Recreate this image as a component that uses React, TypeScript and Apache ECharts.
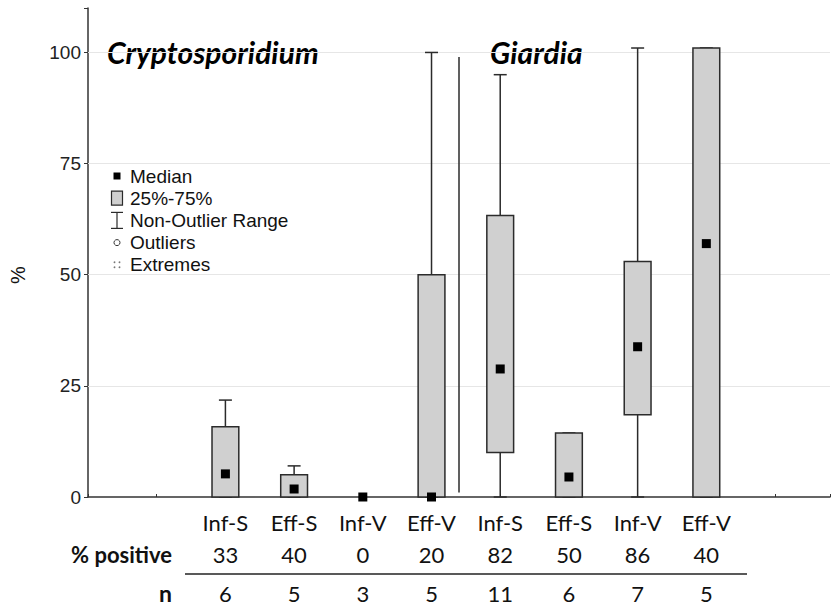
import React, { useEffect, useRef } from 'react';
import * as echarts from 'echarts';

// ---- data ----
const groups = ['Inf-S', 'Eff-S', 'Inf-V', 'Eff-V', 'Inf-S', 'Eff-S', 'Inf-V', 'Eff-V'];
const positions = [2, 3, 4, 5, 6, 7, 8, 9];
const whiskerMin = [0, 0, 0, 0, 0, 0, 0, 0];
const q1 = [0, 0, 0, 0, 10, 0, 18.5, 0];
const medians = [5.2, 1.8, 0, 0, 28.8, 4.5, 33.8, 57];
const q3 = [15.8, 5, 0, 50, 63.3, 14.4, 53, 101];
const whiskerMax = [21.8, 7, 0, 100, 95, 14.4, 101, 101];
const pctPositive = [33, 40, 0, 20, 82, 50, 86, 40];
const nSamples = [6, 5, 3, 5, 11, 6, 7, 5];
const yTicks = [0, 25, 50, 75, 100];
const gridValues = [25, 50, 75, 100];
const titles = ['Cryptosporidium', 'Giardia'];
const legendItems = ['Median', '25%-75%', 'Non-Outlier Range', 'Outliers', 'Extremes'];
const rowTitles = ['% positive', 'n'];
const separator = [[5.4, 1], [5.4, 99]];

export default function App() {
  const ref = useRef<HTMLDivElement>(null);
  useEffect(() => {
    document.body.style.margin = '0';
    const chart = echarts.init(ref.current!, null, { renderer: 'svg' });
    const boxData = positions.map((p, i) => [p, whiskerMin[i], q1[i], medians[i], q3[i], whiskerMax[i]]);
    const dark = '#2b2b2b';
    const legendFont = '19px "Liberation Sans", Arial, sans-serif';
    const legendTop = 176;
    const legendStep = 22.2;
    const legendGraphics: any[] = legendItems.map((t, i) => ({
      type: 'text',
      x: 130,
      y: legendTop + i * legendStep,
      style: { text: t, font: legendFont, fill: '#111', verticalAlign: 'middle' },
    }));
    const iconX = 117;
    legendGraphics.push(
      { type: 'rect', shape: { x: iconX - 3.5, y: legendTop - 3.5, width: 7, height: 7 }, style: { fill: '#000' } },
      { type: 'rect', shape: { x: iconX - 5.5, y: legendTop + legendStep - 7, width: 11, height: 14 }, style: { fill: '#d0d0d0', stroke: dark, lineWidth: 1.2 } },
      { type: 'line', shape: { x1: iconX, y1: legendTop + 2 * legendStep - 8, x2: iconX, y2: legendTop + 2 * legendStep + 8 }, style: { stroke: dark, lineWidth: 1.2 } },
      { type: 'line', shape: { x1: iconX - 6, y1: legendTop + 2 * legendStep - 8, x2: iconX + 6, y2: legendTop + 2 * legendStep - 8 }, style: { stroke: dark, lineWidth: 1.2 } },
      { type: 'line', shape: { x1: iconX - 6, y1: legendTop + 2 * legendStep + 8, x2: iconX + 6, y2: legendTop + 2 * legendStep + 8 }, style: { stroke: dark, lineWidth: 1.2 } },
      { type: 'circle', shape: { cx: iconX, cy: legendTop + 3 * legendStep, r: 3 }, style: { fill: 'none', stroke: '#333', lineWidth: 1 } },
    );
    [[-2.5, -2.5], [2.5, -2.5], [-2.5, 2.5], [2.5, 2.5]].forEach(([dx, dy]) => {
      legendGraphics.push({ type: 'circle', shape: { cx: iconX + dx, cy: legendTop + 4 * legendStep + dy, r: 0.9 }, style: { fill: '#777' } });
    });

    chart.setOption({
      animation: false,
      backgroundColor: '#fff',
      grid: { left: 88, right: 0, top: 8, bottom: 113, containLabel: false },
      xAxis: {
        type: 'value',
        min: 0,
        max: 10.8,
        interval: 1,
        axisLine: { show: true, lineStyle: { color: '#333', width: 1.5 } },
        axisTick: { show: true, inside: true, length: 3, lineStyle: { color: '#333' } },
        splitLine: { show: false },
        axisLabel: {
          margin: 9,
          formatter: (v: number) => {
            const i = positions.indexOf(Math.round(v * 10) / 10);
            if (i < 0) return '';
            return `{c|${groups[i]}}\n{p|${pctPositive[i]}}\n{n|${nSamples[i]}}`;
          },
          rich: {
            c: { fontFamily: 'Lato', fontSize: 22, lineHeight: 32, color: '#111' },
            p: { fontFamily: 'Lato', fontSize: 22, lineHeight: 32, color: '#111' },
            n: { fontFamily: 'Lato', fontSize: 22, lineHeight: 46, color: '#111' },
          },
        },
      },
      yAxis: {
        type: 'value',
        min: 0,
        max: 110,
        interval: 25,
        axisLine: { show: true, lineStyle: { color: '#333', width: 1.5 } },
        axisTick: { show: true, length: 4, lineStyle: { color: '#333' } },
        splitLine: { show: false },
        axisLabel: {
          margin: 7,
          fontFamily: '"Liberation Sans", Arial, sans-serif',
          fontSize: 19,
          color: '#222',
          formatter: (v: number) => (yTicks.includes(v) ? String(v) : ''),
        },
      },
      series: [
        {
          type: 'line',
          data: separator,
          symbol: 'none',
          lineStyle: { color: dark, width: 1.5 },
          z: 3,
          markLine: {
            silent: true,
            symbol: 'none',
            label: { show: false },
            lineStyle: { color: '#e6e6e6', width: 1, type: 'solid' },
            data: gridValues.map((v) => ({ yAxis: v })),
            z: 1,
          },
        },
        {
          type: 'custom',
          data: boxData,
          z: 5,
          renderItem: (params: any, api: any) => {
            const p = api.value(0);
            const vMin = api.value(1), vQ1 = api.value(2), vMed = api.value(3), vQ3 = api.value(4), vMax = api.value(5);
            const x = api.coord([p, 0])[0];
            const yMin = api.coord([p, vMin])[1];
            const yQ1 = api.coord([p, vQ1])[1];
            const yMed = api.coord([p, vMed])[1];
            const yQ3 = api.coord([p, vQ3])[1];
            const yMax = api.coord([p, vMax])[1];
            const half = api.size([0.39, 0])[0] / 2;
            const cap = 6.5;
            const children: any[] = [];
            const ls = { stroke: dark, lineWidth: 1.5 };
            if (vMax > vMin) {
              children.push({ type: 'line', shape: { x1: x, y1: yMin, x2: x, y2: yMax }, style: ls });
              children.push({ type: 'line', shape: { x1: x - cap, y1: yMax, x2: x + cap, y2: yMax }, style: ls });
              children.push({ type: 'line', shape: { x1: x - cap, y1: yMin, x2: x + cap, y2: yMin }, style: ls });
            }
            if (vQ3 > vQ1) {
              children.push({
                type: 'rect',
                shape: { x: x - half, y: yQ3, width: half * 2, height: yQ1 - yQ3 },
                style: { fill: '#d0d0d0', stroke: dark, lineWidth: 1.5 },
              });
            }
            children.push({ type: 'rect', shape: { x: x - 4.5, y: yMed - 4.5, width: 9, height: 9 }, style: { fill: '#000' } });
            return { type: 'group', children };
          },
        },
      ],
      graphic: [
        {
          type: 'text', x: 107, y: 52,
          style: { text: titles[0], font: 'italic bold 30px Lato, sans-serif', fill: '#000', verticalAlign: 'middle' },
        },
        {
          type: 'text', x: 490, y: 52,
          style: { text: titles[1], font: 'italic bold 30px Lato, sans-serif', fill: '#000', verticalAlign: 'middle' },
        },
        {
          type: 'text', x: 18, y: 275, rotation: Math.PI / 2,
          style: { text: '%', font: '20px "Liberation Sans", Arial, sans-serif', fill: '#111', align: 'center', verticalAlign: 'middle' },
        },
        {
          type: 'text', x: 172, y: 554,
          style: { text: rowTitles[0], font: 'bold 22px Lato, sans-serif', fill: '#111', align: 'right', verticalAlign: 'middle' },
        },
        {
          type: 'text', x: 172, y: 593,
          style: { text: rowTitles[1], font: 'bold 23px Lato, sans-serif', fill: '#111', align: 'right', verticalAlign: 'middle' },
        },
        { type: 'line', shape: { x1: 185, y1: 574, x2: 747, y2: 574 }, style: { stroke: '#222', lineWidth: 1.5 } },
        ...legendGraphics,
      ],
    });
    return () => chart.dispose();
  }, []);
  return <div ref={ref} style={{ width: 833, height: 610 }} />;
}
